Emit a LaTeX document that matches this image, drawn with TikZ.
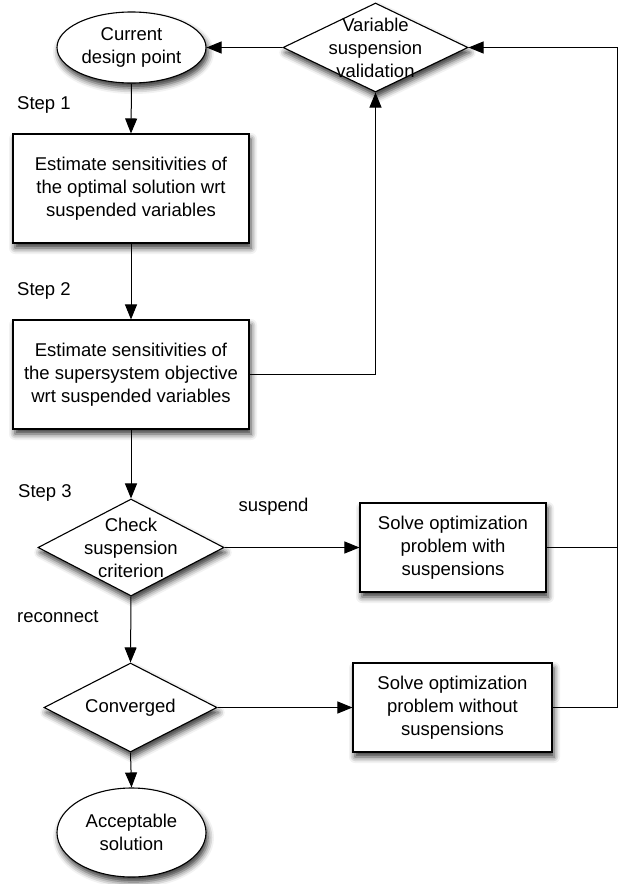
\documentclass[tikz,border=0pt]{standalone}
\usepackage{fontspec}
\setmainfont{Liberation Sans}
\usepackage{tikz}
\usetikzlibrary{arrows.meta,shapes.geometric,shadows.blur}
\newcommand{\chartfont}{\fontsize{18.5}{23}\selectfont}
\tikzset{
    softshadow/.style={blur shadow={shadow xshift=2pt,shadow yshift=-5pt,shadow blur radius=6pt,shadow opacity=80}},
    process/.style={rectangle,draw,line width=1.1pt,fill=white,align=center,inner sep=0pt,softshadow},
    decision/.style={diamond,draw,line width=1.1pt,fill=white,inner sep=0pt,softshadow},
    terminal/.style={ellipse,draw,line width=1.1pt,fill=white,align=center,inner sep=0pt,softshadow},
    insidetext/.style={align=center,inner sep=0pt},
    flow/.style={-{Triangle[length=15pt,width=12pt]},line width=1pt},
    joinline/.style={line width=1pt},
    steplabel/.style={anchor=west,inner sep=0pt}
}

\begin{document}
\begin{tikzpicture}[x=1pt,y=-1pt,font=\chartfont]
    \useasboundingbox (0,0) rectangle (629,884);
    % Start and validation
    \node[terminal,minimum width=149pt,minimum height=71pt] (cur) at (131.5,47.5) {Current\\design point};
    \node[decision,minimum width=185pt,minimum height=89pt,
          label={[insidetext]center:Variable\\suspension\\validation}] (valid) at (375.5,47.5) {};
    % Sensitivity steps
    \node[process,minimum width=236pt,minimum height=109pt] (est1) at (131,188.5)
        {Estimate sensitivities of\\the optimal solution wrt\\suspended variables};
    \node[process,minimum width=236pt,minimum height=109pt] (est2) at (131,374.5)
        {Estimate sensitivities of\\the supersystem objective\\wrt suspended variables};
    % Criterion
    \node[decision,minimum width=186pt,minimum height=97pt,
          label={[insidetext]center:Check\\suspension\\criterion}] (check) at (131,547.5) {};
    \node[process,minimum width=186pt,minimum height=89pt] (solve1) at (453,547.5)
        {Solve optimization\\problem with\\suspensions};
    % Convergence
    \node[decision,minimum width=173pt,minimum height=89pt,
          label={[insidetext]center:Converged}] (conv) at (130.5,707.5) {};
    \node[process,minimum width=199pt,minimum height=89pt] (solve2) at (452.5,707.5)
        {Solve optimization\\problem without\\suspensions};
    \node[terminal,minimum width=149pt,minimum height=89pt] (accept) at (131.5,832.5) {Acceptable\\solution};
    % Labels
    \node[steplabel] (s1) at (17,105) {Step 1};
    \node[steplabel] (s2) at (17,291) {Step 2};
    \node[steplabel] (s3) at (18,493) {Step 3};
    \node[inner sep=0pt] (susp) at (273.5,507) {suspend};
    \node[steplabel] (recon) at (17,617) {reconnect};
    % Return rail
    \coordinate (railtop) at (617,47.5);
    \coordinate (railbot) at (617,707.5);
    % Connectors
    \draw[flow] (valid.west) -- (cur.east);
    \draw[flow] (cur.south) -- (est1.north);
    \draw[flow] (est1.south) -- (est2.north);
    \draw[flow] (est2.east) -| (valid.south);
    \draw[flow] (est2.south) -- (check.north);
    \draw[flow] (check.east) -- (solve1.west);
    \draw[flow] (check.south) -- (conv.north);
    \draw[flow] (conv.east) -- (solve2.west);
    \draw[flow] (conv.south) -- (accept.north);
    \draw[joinline] (solve1.east) -- (solve1.east -| railtop);
    \draw[flow] (solve2.east) -- (railbot) -- (railtop) -- (valid.east);
\end{tikzpicture}
\end{document}
